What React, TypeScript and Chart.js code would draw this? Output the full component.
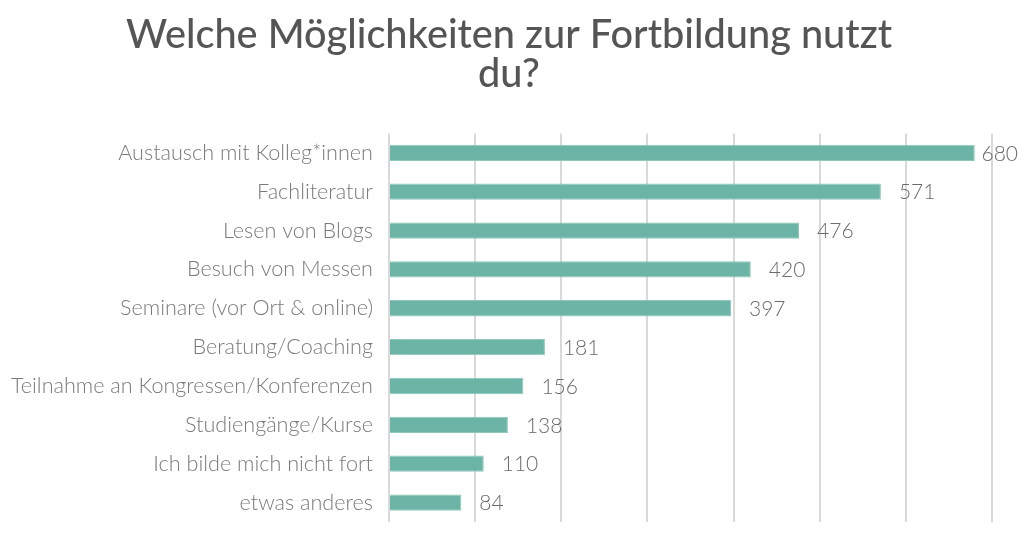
import React, { useEffect, useRef } from "react";
import { Chart, registerables } from "chart.js";

Chart.register(...registerables);

const titleLines = ["Welche Möglichkeiten zur Fortbildung nutzt", "du?"];
const categories = [
  "Austausch mit Kolleg*innen",
  "Fachliteratur",
  "Lesen von Blogs",
  "Besuch von Messen",
  "Seminare (vor Ort & online)",
  "Beratung/Coaching",
  "Teilnahme an Kongressen/Konferenzen",
  "Studiengänge/Kurse",
  "Ich bilde mich nicht fort",
  "etwas anderes",
];
const values = [680, 571, 476, 420, 397, 181, 156, 138, 110, 84];
const xMin = 0;
const xMax = 700;
const xStep = 100;

const FONT = "Lato, 'Open Sans', sans-serif";

const valueLabels = {
  id: "valueLabels",
  afterDatasetsDraw(chart: any) {
    const { ctx } = chart;
    const meta = chart.getDatasetMeta(0);
    ctx.save();
    ctx.font = `300 21px ${FONT}`;
    ctx.fillStyle = "#6b6b6b";
    ctx.textBaseline = "middle";
    ctx.textAlign = "left";
    meta.data.forEach((bar: any, i: number) => {
      const text = String(chart.data.datasets[0].data[i]);
      const w = ctx.measureText(text).width;
      let x = bar.x + 18;
      const maxX = chart.width - 6 - w;
      if (x > maxX) x = maxX;
      ctx.fillText(text, x, bar.y + 1);
    });
    ctx.restore();
  },
};

export default function App() {
  const ref = useRef<HTMLCanvasElement | null>(null);
  useEffect(() => {
    document.body.style.margin = "0";
    const chart = new Chart(ref.current as HTMLCanvasElement, {
      type: "bar",
      data: {
        labels: categories,
        datasets: [
          {
            data: values,
            backgroundColor: "#6cb5a6",
            borderColor: "#8cc8bb",
            borderWidth: 1,
            barPercentage: 0.42,
            categoryPercentage: 1,
          },
        ],
      },
      options: {
        indexAxis: "y",
        animation: false,
        responsive: false,
        maintainAspectRatio: false,
        layout: { padding: { top: 0, right: 6, bottom: 24, left: 0 } },
        plugins: {
          legend: { display: false },
          tooltip: { enabled: false },
          title: {
            display: true,
            text: titleLines,
            color: "#555555",
            font: { family: FONT, size: 39.7, weight: "500", lineHeight: 1.0 },
            padding: { top: 15, bottom: 39 },
          },
        },
        scales: {
          x: {
            min: xMin,
            max: xMax,
            ticks: { display: false, stepSize: xStep },
            grid: { color: "#d9d9d9", lineWidth: 2, drawTicks: false },
            border: { display: false },
            afterFit: (scale: any) => {
              scale.height = 0;
              scale.paddingLeft = 0;
              scale.paddingRight = 0;
            },
          },
          y: {
            grid: { display: false, drawTicks: false },
            border: { display: false },
            ticks: {
              color: "#7a7a7a",
              padding: 16,
              font: { family: FONT, size: 21.6, weight: "300" },
            },
            afterFit: (scale: any) => {
              scale.width = 389;
              scale.paddingTop = 0;
              scale.paddingBottom = 0;
            },
          },
          yRight: {
            type: "category",
            position: "right",
            labels: categories,
            grid: { display: false, drawTicks: false },
            border: { display: false },
            ticks: { display: false },
            afterFit: (scale: any) => {
              scale.width = 26;
              scale.paddingTop = 0;
              scale.paddingBottom = 0;
            },
          },
        },
      },
      plugins: [valueLabels],
    });
    return () => chart.destroy();
  }, []);
  return (
    <div style={{ width: 1024, height: 546 }}>
      <canvas ref={ref} width={1024} height={546} />
    </div>
  );
}
